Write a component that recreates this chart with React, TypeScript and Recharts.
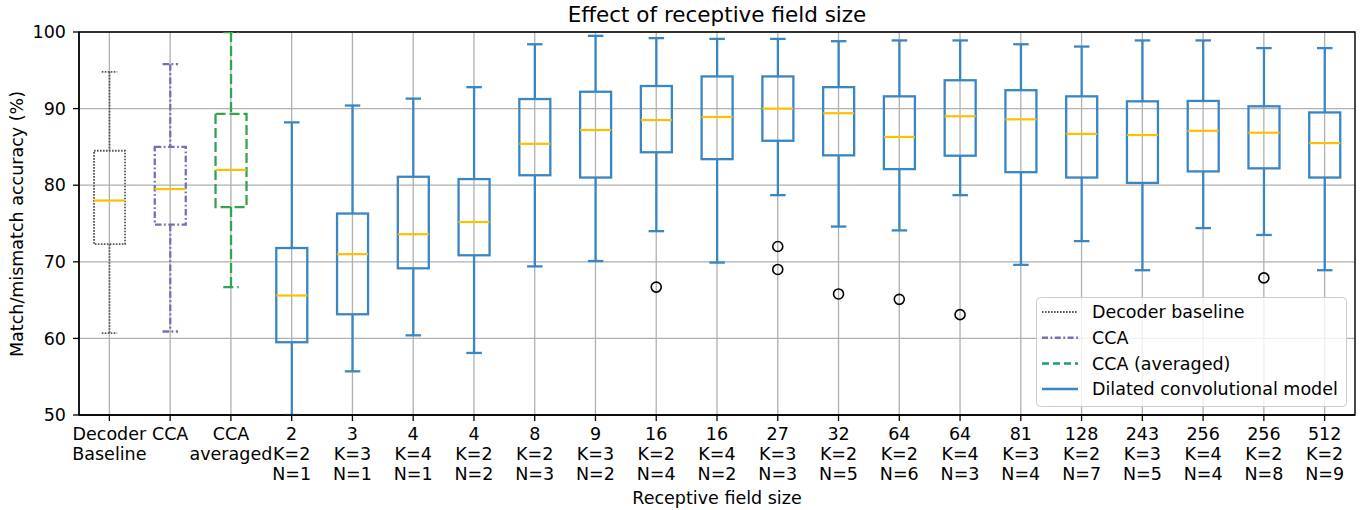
import React from 'react';
import { ComposedChart, Bar, Scatter, XAxis, YAxis, CartesianGrid, ReferenceArea } from 'recharts';

// receptive field labels (size / kernel / layers)
const labels = [
  'Decoder\nBaseline', 'CCA', 'CCA\naveraged',
  '2\nK=2\nN=1', '3\nK=3\nN=1', '4\nK=4\nN=1', '4\nK=2\nN=2', '8\nK=2\nN=3', '9\nK=3\nN=2',
  '16\nK=2\nN=4', '16\nK=4\nN=2', '27\nK=3\nN=3', '32\nK=2\nN=5', '64\nK=2\nN=6', '64\nK=4\nN=3',
  '81\nK=3\nN=4', '128\nK=2\nN=7', '243\nK=3\nN=5', '256\nK=4\nN=4', '256\nK=2\nN=8', '512\nK=2\nN=9',
];
const whiskerLow = [60.7, 60.9, 66.7, 50.0, 55.7, 60.4, 58.1, 69.4, 70.1, 74.0, 69.9, 78.7, 74.6, 74.1, 78.7, 69.6, 72.7, 68.9, 74.4, 73.5, 68.9];
const q1 = [72.3, 74.85, 77.15, 59.5, 63.15, 69.15, 70.85, 81.3, 81.0, 84.3, 83.4, 85.8, 83.9, 82.1, 83.85, 81.7, 81.0, 80.3, 81.8, 82.2, 81.0];
const median = [78.0, 79.5, 82.0, 65.6, 71.0, 73.6, 75.2, 85.4, 87.2, 88.5, 88.9, 90.0, 89.4, 86.3, 89.0, 88.6, 86.7, 86.55, 87.1, 86.85, 85.5];
const q3 = [84.5, 85.0, 89.3, 71.8, 76.3, 81.1, 80.8, 91.25, 92.2, 92.95, 94.2, 94.2, 92.8, 91.6, 93.7, 92.4, 91.6, 90.95, 91.0, 90.3, 89.5];
const whiskerHigh = [94.8, 95.8, 100, 88.2, 90.4, 91.3, 92.8, 98.4, 99.5, 99.2, 99.1, 99.1, 98.8, 98.9, 98.9, 98.4, 98.1, 98.9, 98.9, 97.9, 97.9];
const outliers: number[][] = [[], [], [], [], [], [], [], [], [], [66.7], [], [72.0, 69.0], [65.8], [65.1], [63.1], [], [], [], [], [67.9], []];
const yTicks = [50, 60, 70, 80, 90, 100];

const BLUE = '#3a86c4';
const MEDIAN = '#ffbf00';

// line style per box: baseline, CCA, CCA averaged, then the dilated models
const boxStyles = [
  { stroke: '#555555', width: 1.8, dash: '1.6 1.4' },
  { stroke: '#7570b3', width: 2.3, dash: '6.5 2.5 1.8 2.5' },
  { stroke: '#33a350', width: 2.3, dash: '10 4' },
];
const styleFor = (i: number) => boxStyles[i] || { stroke: BLUE, width: 2.3, dash: undefined };

const legendItems = [
  { name: 'Decoder baseline', stroke: '#555555', width: 1.8, dash: '1.6 1.4' },
  { name: 'CCA', stroke: '#7570b3', width: 2.5, dash: '6 2.5 1.8 2.5' },
  { name: 'CCA (averaged)', stroke: '#1b9e77', width: 2.5, dash: '7 4' },
  { name: 'Dilated convolutional model', stroke: BLUE, width: 2.5, dash: undefined },
];

const data = labels.map((label, i) => ({
  label,
  idx: i,
  low: whiskerLow[i],
  q1: q1[i],
  med: median[i],
  q3: q3[i],
  high: whiskerHigh[i],
  out1: outliers[i][0] ?? null,
  out2: outliers[i][1] ?? null,
}));

const FONT = 'DejaVu Sans';

// range bar spans the whiskers; box, median and caps placed on the same scale
const BoxShape = (props: any) => {
  const { x, y, width, height, payload } = props;
  const k = height / (payload.high - payload.low);
  const py = (v: number) => y + (payload.high - v) * k;
  const s = styleFor(payload.idx);
  const cx = x + width / 2;
  const cap = width * 0.25;
  const common = { stroke: s.stroke, strokeWidth: s.width, strokeDasharray: s.dash, fill: 'none' };
  return (
    <g>
      <line x1={cx} x2={cx} y1={py(payload.high)} y2={py(payload.q3)} {...common} />
      <line x1={cx} x2={cx} y1={py(payload.q1)} y2={py(payload.low)} {...common} />
      <line x1={cx - cap} x2={cx + cap} y1={py(payload.high)} y2={py(payload.high)} {...common} />
      <line x1={cx - cap} x2={cx + cap} y1={py(payload.low)} y2={py(payload.low)} {...common} />
      <rect x={x} y={py(payload.q3)} width={width} height={py(payload.q1) - py(payload.q3)} {...common} />
      <line x1={x} x2={x + width} y1={py(payload.med)} y2={py(payload.med)} stroke={MEDIAN} strokeWidth={2.2} />
    </g>
  );
};

const outlierShape = (key: string) => (p: any) =>
  p.payload[key] == null ? <g /> : <circle cx={p.cx} cy={p.cy} r={5} fill="none" stroke="#000" strokeWidth={1.6} />;

const XTick = (props: any) => {
  const { x, y, payload } = props;
  const lines = String(payload.value).split('\n');
  return (
    <text x={x} y={y} textAnchor="middle" fill="#000" fontSize={17.5} fontFamily={FONT}>
      {lines.map((l, i) => (
        <tspan key={i} x={x} dy={i === 0 ? 18.5 : 20.3}>{l}</tspan>
      ))}
    </text>
  );
};

export default function App() {
  return (
    <div style={{ position: 'absolute', left: 0, top: 0, width: 1371, height: 510, background: '#fff', fontFamily: FONT }}>
      <ComposedChart width={1371} height={510} data={data} margin={{ top: 32, right: 16, bottom: 0, left: 0 }}>
        <CartesianGrid stroke="#b0b0b0" strokeWidth={1.3} />
        <XAxis
          dataKey="label"
          interval={0}
          height={95}
          tick={<XTick />}
          tickSize={6}
          tickMargin={0}
          tickLine={{ stroke: '#000', strokeWidth: 1.3 }}
          axisLine={{ stroke: '#000', strokeWidth: 1.3 }}
          label={{ value: 'Receptive field size', position: 'insideBottom', offset: 6, fill: '#000', fontSize: 17.5, fontFamily: FONT }}
        />
        <YAxis
          domain={[50, 100]}
          ticks={yTicks}
          allowDataOverflow
          width={79}
          tickSize={6}
          tickMargin={7}
          tick={{ fill: '#000', fontSize: 17.5, fontFamily: FONT }}
          tickLine={{ stroke: '#000', strokeWidth: 1.3 }}
          axisLine={{ stroke: '#000', strokeWidth: 1.3 }}
        />
        <ReferenceArea y1={50} y2={100} fill="none" stroke="#000" strokeWidth={1.3} />
        <Bar dataKey={(d: any) => [d.low, d.high]} barSize={31} shape={BoxShape} isAnimationActive={false} />
        <Scatter dataKey="out1" shape={outlierShape('out1')} isAnimationActive={false} />
        <Scatter dataKey="out2" shape={outlierShape('out2')} isAnimationActive={false} />
      </ComposedChart>
      <svg width={1371} height={510} style={{ position: 'absolute', left: 0, top: 0, pointerEvents: 'none' }} fontFamily={FONT}>
        <text x={717} y={22} textAnchor="middle" fontSize={21.5} fill="#000">Effect of receptive field size</text>
        <text x={23} y={224} textAnchor="middle" fontSize={17.5} fill="#000" transform="rotate(-90, 23, 224)">
          Match/mismatch accuracy (%)
        </text>
        <g transform="translate(1036, 297)">
          <rect x={0.5} y={0.5} width={310} height={109} rx={4} fill="#fff" fillOpacity={0.8} stroke="#cccccc" />
          {legendItems.map((it, i) => {
            const cy = 15 + i * 25.7;
            return (
              <g key={it.name}>
                <line x1={6} x2={42} y1={cy} y2={cy} stroke={it.stroke} strokeWidth={it.width} strokeDasharray={it.dash} />
                <text x={56} y={cy + 6.3} fontSize={17.5} fill="#000">{it.name}</text>
              </g>
            );
          })}
        </g>
      </svg>
    </div>
  );
}
